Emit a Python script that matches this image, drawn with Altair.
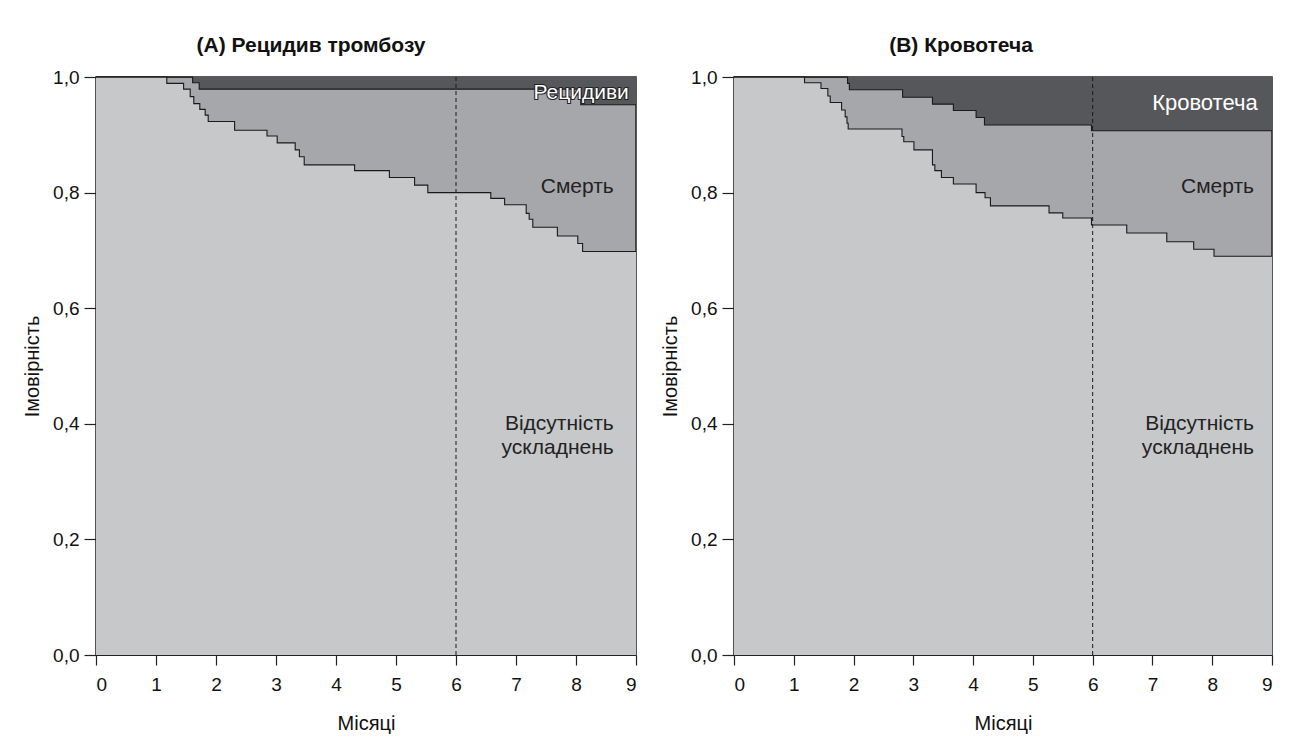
import altair as alt
import pandas as pd

# ---- data ----
A_free_t = [0, 1.18, 1.46, 1.57, 1.63, 1.73, 1.82, 1.87, 2.31, 2.85, 3.02, 3.32, 3.39, 3.47,
            4.31, 4.89, 5.31, 5.53, 6.58, 6.81, 7.17, 7.22, 7.28, 7.69, 8.03, 8.11, 9]
A_free_v = [1.0, 0.989, 0.979, 0.966, 0.954, 0.944, 0.934, 0.923, 0.908, 0.898, 0.886, 0.874, 0.862, 0.848,
            0.838, 0.826, 0.813, 0.800, 0.790, 0.779, 0.764, 0.754, 0.740, 0.725, 0.712, 0.698, 0.698]
A_event_t = [0, 1.61, 1.72, 8.08, 9]
A_event_v = [1.0, 0.990, 0.979, 0.952, 0.952]

B_free_t = [0, 1.18, 1.455, 1.57, 1.61, 1.80, 1.86, 1.89, 1.91, 2.81, 2.84, 3.01, 3.32, 3.36, 3.47,
            3.67, 4.05, 4.20, 4.29, 5.27, 5.50, 5.98, 6.57, 7.24, 7.69, 8.03, 9]
B_free_v = [1.0, 0.990, 0.980, 0.967, 0.956, 0.943, 0.931, 0.920, 0.910, 0.897, 0.888, 0.874, 0.848, 0.838, 0.826,
            0.815, 0.800, 0.791, 0.777, 0.765, 0.756, 0.744, 0.730, 0.715, 0.702, 0.690, 0.690]
B_event_t = [0, 1.90, 1.93, 2.82, 3.32, 3.67, 4.05, 4.19, 5.98, 9]
B_event_v = [1.0, 0.989, 0.978, 0.965, 0.953, 0.942, 0.930, 0.917, 0.907, 0.907]

titles = ["(A) Рецидив тромбозу", "(B) Кровотеча"]
event_labels = ["Рецидиви", "Кровотеча"]
death_label = "Смерть"
free_label = "Відсутність\nускладнень"
x_ticks = [0, 1, 2, 3, 4, 5, 6, 7, 8, 9]
y_ticks = [0.0, 0.2, 0.4, 0.6, 0.8, 1.0]
x_title = "Місяці"
y_title = "Імовірність"
cutoff = 6

LIGHT = "#c7c8ca"
MID = "#a6a7aa"
DARK = "#56575a"
LINE = "#1a1a1a"
FONT = "Liberation Sans"


def panel(free_t, free_v, ev_t, ev_v, title, ev_label, width, title_dx, ev_x, ev_y, ev_size,
          ev_outline, txt_x):
    free = pd.DataFrame({"t": free_t, "v": free_v})
    ev = pd.DataFrame({"t": ev_t, "v": ev_v})
    xs = alt.Scale(domain=[0, 9], nice=False)
    ys = alt.Scale(domain=[0, 1], nice=False)
    xax = alt.Axis(values=x_ticks, format="d", title=x_title, grid=False, tickSize=10,
                   labelPadding=10, titlePadding=19, labelFontSize=19)
    yax = alt.Axis(values=y_ticks, title=y_title, grid=False, tickSize=12, labelPadding=5,
                   titlePadding=10, labelFontSize=19,
                   labelExpr="replace(format(datum.value, '.1f'), '.', ',')")

    dark = alt.Chart(ev).mark_area(interpolate="step-after", color=DARK, opacity=1).encode(
        x=alt.X("t:Q", scale=xs, axis=xax), y=alt.Y("v:Q", scale=ys, axis=yax), y2=alt.datum(1.0))
    light = alt.Chart(free).mark_area(interpolate="step-after", color=LIGHT, opacity=1).encode(
        x="t:Q", y="v:Q", y2=alt.datum(0.0))
    ev_line = alt.Chart(ev).mark_line(interpolate="step-after", color=LINE, strokeWidth=1.1).encode(
        x="t:Q", y="v:Q")
    free_line = alt.Chart(free).mark_line(interpolate="step-after", color=LINE, strokeWidth=1.1).encode(
        x="t:Q", y="v:Q")
    rule = alt.Chart(pd.DataFrame({"t": [cutoff]})).mark_rule(
        color=LINE, strokeDash=[4, 3], strokeWidth=1).encode(x="t:Q", y=alt.datum(0.0), y2=alt.datum(1.0))

    ev_df = pd.DataFrame({"s": [ev_label]})
    layers = [dark, light, ev_line, free_line, rule]
    if ev_outline:
        layers.append(alt.Chart(ev_df).mark_text(
            align="right", baseline="middle", font=FONT, fontSize=ev_size, color="#222",
            stroke="#222", strokeWidth=2.2).encode(x=alt.datum(ev_x), y=alt.datum(ev_y), text="s:N"))
    layers.append(alt.Chart(ev_df).mark_text(
        align="right", baseline="middle", font=FONT, fontSize=ev_size, color="white").encode(
        x=alt.datum(ev_x), y=alt.datum(ev_y), text="s:N"))
    layers.append(alt.Chart(pd.DataFrame({"s": [death_label]})).mark_text(
        align="right", baseline="middle", font=FONT, fontSize=21, color="#222").encode(
        x=alt.datum(txt_x), y=alt.datum(0.81), text="s:N"))
    layers.append(alt.Chart(pd.DataFrame({"s": [free_label]})).mark_text(
        align="right", baseline="middle", font=FONT, fontSize=21, color="#222", lineBreak="\n",
        lineHeight=24).encode(x=alt.datum(txt_x), y=alt.datum(0.40), text="s:N"))

    return alt.layer(*layers).properties(
        width=width, height=578,
        title=alt.TitleParams(title, fontSize=21, fontWeight="bold", font=FONT, anchor="middle",
                              dx=title_dx, offset=12, color="#111"))


pA = panel(A_free_t, A_free_v, A_event_t, A_event_v, titles[0], event_labels[0], 540, -55,
           8.88, 0.972, 21, True, 8.63)
pB = panel(B_free_t, B_free_v, B_event_t, B_event_v, titles[1], event_labels[1], 538, -42,
           8.76, 0.955, 22, False, 8.70)

chart = alt.hconcat(pA, pB, spacing=20).properties(
    padding={"left": 13, "top": 26, "right": 5, "bottom": 5}
).configure_view(fill=MID, stroke="#222", strokeWidth=1.5).configure_axis(
    labelFont=FONT, titleFont=FONT, titleFontSize=20, labelColor="#111",
    titleColor="#111", titleFontWeight="normal", domainColor="#222", tickColor="#222",
    domainWidth=1.2, tickWidth=1.2)

chart.save("out.html", embed_options={"renderer": "svg", "actions": False})
